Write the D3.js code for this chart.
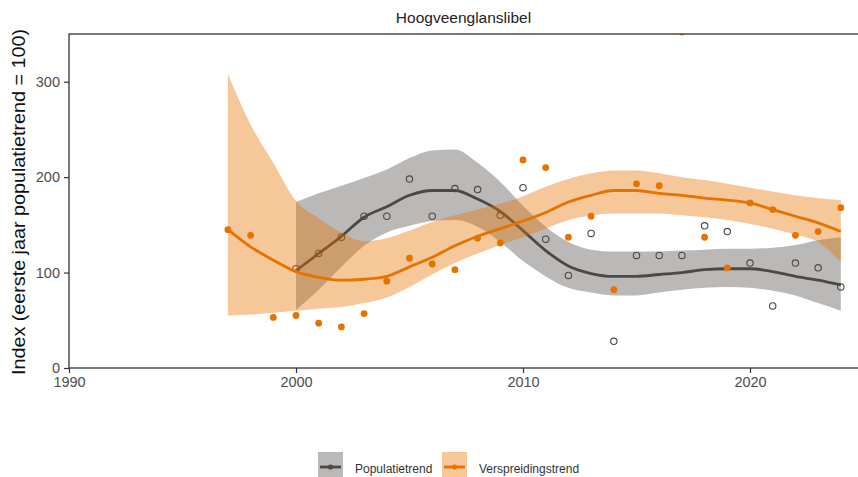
<!DOCTYPE html>
<html>
<head>
<meta charset="utf-8">
<script src="https://cdnjs.cloudflare.com/ajax/libs/d3/7.8.5/d3.min.js"></script>
<style>
  html, body { margin: 0; padding: 0; background: #fff; }
  svg { display: block; font-family: "Liberation Sans", Arial, sans-serif; }
</style>
</head>
<body>
<div id="chart"></div>
<script>
// Data
const title = "Hoogveenglanslibel";
const yLabel = "Index (eerste jaar populatietrend = 100)";
const seriesNames = ["Populatietrend", "Verspreidingstrend"];
const xTicks = [1990, 2000, 2010, 2020];
const yTicks = [0, 100, 200, 300];

// Populatietrend (grey)
const popYears = [2000, 2001, 2002, 2003, 2004, 2005, 2006, 2007, 2008, 2009, 2010, 2011, 2012,
                  2013, 2014, 2015, 2016, 2017, 2018, 2019, 2020, 2021, 2022, 2023, 2024];
const popIndex = [104, 120, 137, 159, 159, 198, 159, 188, 187, 160, 189, 135, 97,
                  141, 28, 118, 118, 118, 149, 143, 110, 65, 110, 105, 85];
const popTrend = [102, 120, 138, 158, 169, 181, 186, 186, 177, 164, 144, 123, 107,
                  99, 96, 96, 98, 100, 103, 104, 104, 101, 96, 92, 87];
const popUpper = [174, 183, 191, 199, 208, 220, 228, 229, 215, 195, 170, 148, 132,
                  124, 122, 122, 122, 123, 124, 125, 125, 126, 129, 134, 137];
const popLower = [61, 82, 106, 128, 142, 149, 154, 155, 148, 132, 112, 96, 84,
                  79, 76, 76, 79, 82, 84, 85, 84, 81, 76, 68, 60];

// Verspreidingstrend (orange)
const verYears = [1997, 1998, 1999, 2000, 2001, 2002, 2003, 2004, 2005, 2006, 2007, 2008, 2009, 2010,
                  2011, 2012, 2013, 2014, 2015, 2016, 2017, 2018, 2019, 2020, 2021, 2022, 2023, 2024];
const verIndex = [145, 139, 53, 55, 47, 43, 57, 91, 115, 109, 103, 136, 131, 218,
                  210, 137, 159, 82, 193, 191, 352, 137, 105, 173, 166, 139, 143, 168];
const verTrend = [145, 127, 113, 101, 95, 92, 93, 96, 106, 116, 128, 138, 146, 154,
                  163, 174, 181, 186, 186, 183, 181, 178, 176, 173, 166, 159, 152, 143];
const verUpper = [308, 255, 215, 175, 157, 142, 133, 136, 144, 153, 160, 166, 172, 180,
                  190, 198, 204, 207, 207, 204, 200, 197, 193, 189, 185, 181, 178, 176];
const verLower = [55, 56, 58, 60, 62, 64, 68, 74, 85, 98, 110, 120, 129, 137,
                  146, 155, 160, 162, 162, 162, 160, 158, 155, 151, 146, 140, 132, 111];

const colors = {
    pop: "#54514c",
    popLine: "#4d4843",
    ver: "#e67300"
};

const width = 858, height = 477;
const panel = {left: 69, right: 858, top: 34, bottom: 368};

const svg = d3.select("#chart").append("svg")
    .attr("width", width)
    .attr("height", height);

const x = d3.scaleLinear()
    .domain([1990, 1990 + (panel.right - panel.left) / 22.7])
    .range([panel.left, panel.right]);

const y = d3.scaleLinear()
    .domain([0, 350])
    .range([panel.bottom, panel.top]);

svg.append("clipPath").attr("id", "clip")
    .append("rect")
    .attr("x", panel.left)
    .attr("y", panel.top)
    .attr("width", panel.right - panel.left)
    .attr("height", panel.bottom - panel.top);

const plot = svg.append("g").attr("clip-path", "url(#clip)");

function rows(years, trend, lower, upper) {
    return years.map((yr, i) => ({year: yr, trend: trend[i], lower: lower[i], upper: upper[i]}));
}
const popRows = rows(popYears, popTrend, popLower, popUpper);
const verRows = rows(verYears, verTrend, verLower, verUpper);

const area = d3.area()
    .x(d => x(d.year))
    .y0(d => y(d.lower))
    .y1(d => y(d.upper))
    .curve(d3.curveMonotoneX);

const line = d3.line()
    .x(d => x(d.year))
    .y(d => y(d.trend))
    .curve(d3.curveMonotoneX);

// grey layers first, orange ribbon drawn on top of them
plot.append("path").datum(popRows)
    .attr("d", area)
    .attr("fill", colors.pop)
    .attr("fill-opacity", 0.4);

plot.append("path").datum(popRows)
    .attr("d", line)
    .attr("fill", "none")
    .attr("stroke", colors.popLine)
    .attr("stroke-width", 2.8);

plot.selectAll(".pop-pt")
    .data(popYears.map((yr, i) => [yr, popIndex[i]]))
    .enter().append("circle")
    .attr("class", "pop-pt")
    .attr("cx", d => x(d[0]))
    .attr("cy", d => y(d[1]))
    .attr("r", 3.2)
    .attr("fill", "none")
    .attr("stroke", colors.popLine)
    .attr("stroke-width", 1.1);

plot.append("path").datum(verRows)
    .attr("d", area)
    .attr("fill", colors.ver)
    .attr("fill-opacity", 0.4);

plot.append("path").datum(verRows)
    .attr("d", line)
    .attr("fill", "none")
    .attr("stroke", colors.ver)
    .attr("stroke-width", 2.8);

plot.selectAll(".ver-pt")
    .data(verYears.map((yr, i) => [yr, verIndex[i]]))
    .enter().append("circle")
    .attr("class", "ver-pt")
    .attr("cx", d => x(d[0]))
    .attr("cy", d => y(d[1]))
    .attr("r", 3.4)
    .attr("fill", colors.ver);

// panel frame
svg.append("rect")
    .attr("x", panel.left)
    .attr("y", panel.top)
    .attr("width", panel.right - panel.left + 2)
    .attr("height", panel.bottom - panel.top)
    .attr("fill", "none")
    .attr("stroke", "#333")
    .attr("stroke-width", 1.3);

// Axes
const xAxis = svg.append("g")
    .attr("transform", `translate(0,${panel.bottom})`)
    .call(d3.axisBottom(x).tickValues(xTicks).tickFormat(d3.format("d")).tickSize(5).tickPadding(4));

const yAxis = svg.append("g")
    .attr("transform", `translate(${panel.left},0)`)
    .call(d3.axisLeft(y).tickValues(yTicks).tickSize(5).tickPadding(4));

[xAxis, yAxis].forEach(ax => {
    ax.select(".domain").remove();
    ax.selectAll("line").attr("stroke", "#333").attr("stroke-width", 1.2);
    ax.selectAll("text")
        .attr("fill", "#4d4d4d")
        .style("font-size", "14.5px")
        .style("font-family", "Liberation Sans, Arial, sans-serif");
});

// Title
svg.append("text")
    .attr("x", (panel.left + panel.right) / 2)
    .attr("y", 23)
    .attr("text-anchor", "middle")
    .style("font-size", "15.5px")
    .attr("fill", "#222")
    .text(title);

// Y axis label
svg.append("text")
    .attr("transform", `translate(25,${(panel.top + panel.bottom) / 2 + 1}) rotate(-90)`)
    .attr("text-anchor", "middle")
    .attr("textLength", 346)
    .attr("lengthAdjust", "spacingAndGlyphs")
    .style("font-size", "17.5px")
    .attr("fill", "#111")
    .text(yLabel);

// Legend
const legend = svg.append("g").attr("transform", "translate(318,452)");
const keys = [
    {name: seriesNames[0], fill: colors.pop, line: colors.popLine, x: 0, textX: 37},
    {name: seriesNames[1], fill: colors.ver, line: colors.ver, x: 124, textX: 161}
];
keys.forEach(k => {
    const g = legend.append("g").attr("transform", `translate(${k.x},0)`);
    g.append("rect")
        .attr("width", 25).attr("height", 30)
        .attr("fill", k.fill).attr("fill-opacity", 0.4);
    g.append("line")
        .attr("x1", 2).attr("x2", 23).attr("y1", 15).attr("y2", 15)
        .attr("stroke", k.line).attr("stroke-width", 2.8);
    g.append("circle")
        .attr("cx", 12.5).attr("cy", 15).attr("r", 2.6)
        .attr("fill", k.line);
    legend.append("text")
        .attr("x", k.textX)
        .attr("y", 21)
        .style("font-size", "12px")
        .attr("fill", "#333")
        .text(k.name);
});
</script>
</body>
</html>
